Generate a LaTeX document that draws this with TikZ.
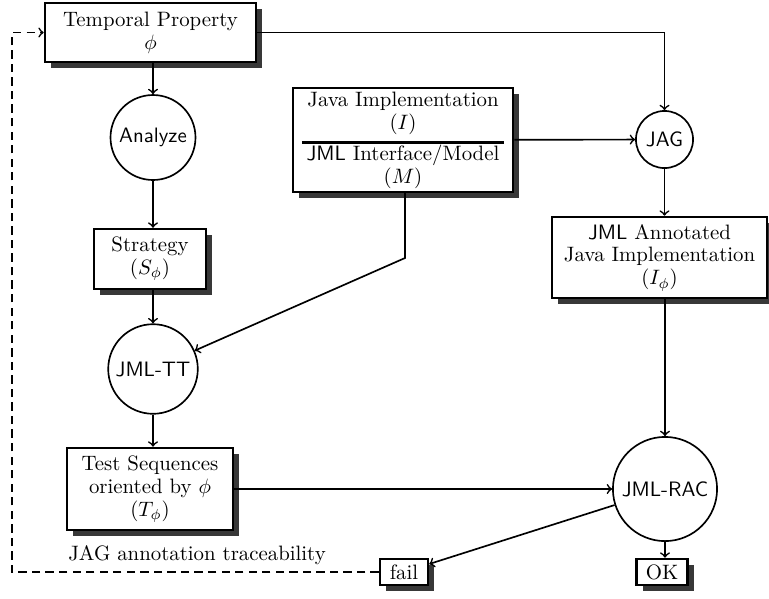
\documentclass[tikz,border=0pt]{standalone}
\usetikzlibrary{shadows}
\begin{document}
\begin{tikzpicture}[x=0.48pt, y=-0.48pt,
    boxStyle/.style={draw, line width=1.2pt, fill=white, align=center, inner sep=1pt,
        font=\fontsize{10}{11}\selectfont,
        drop shadow={shadow xshift=3pt, shadow yshift=-3pt, fill=black!78, opacity=1}},
    circStyle/.style={circle, draw, line width=0.8pt, font=\sffamily, inner sep=0pt},
    edgeStyle/.style={->, line width=0.8pt}]
    \useasboundingbox (0,0) rectangle (769,598);

    % Left column
    \node[boxStyle, minimum width=101.3pt, minimum height=28.3pt] (temporal) at (150.5,32.5) {Temporal Property\\ $\phi$};
    \node[circStyle, minimum size=40.8pt] (analyze) at (153,137.5) {Analyze};
    \node[boxStyle, minimum width=53.8pt, minimum height=28.8pt] (strategy) at (150,259) {Strategy\\ $(S_\phi)$};
    \node[circStyle, minimum size=43pt] (jmltt) at (153,369) {JML-TT};
    \node[boxStyle, minimum width=79.7pt, minimum height=39.4pt] (test) at (150,489) {Test Sequences\\ oriented by $\phi$\\ $(T_\phi)$};

    % Middle
    \node[boxStyle, minimum width=105.6pt, minimum height=49.9pt] (java) at (403,140)
        {Java Implementation\\ $(I)$\\[-4pt] \rule{97pt}{1.2pt}\\[-3pt] \textsf{JML} Interface/Model\\ $(M)$};
    \coordinate (bend) at (405,258);

    % Right column
    \node[circStyle, minimum size=27.4pt] (jag) at (664.5,139.5) {JAG};
    \node[boxStyle, minimum width=103.2pt, minimum height=38.9pt] (annot) at (659.5,257.5)
        {\textsf{JML} Annotated\\ Java Implementation\\ $(I_\phi)$};
    \node[circStyle, minimum size=50pt] (rac) at (665,489) {JML-RAC};

    % Results
    \node[boxStyle, minimum width=23pt, minimum height=12.5pt] (fail) at (404,572) {fail};
    \node[boxStyle, minimum width=24.5pt, minimum height=12.5pt] (ok) at (662,572) {OK};
    \node (trace) at (197,555) {JAG annotation traceability};
    \coordinate (traceLeft) at (12,572);

    % Edges
    \draw[edgeStyle] (temporal.south -| analyze) -- (analyze);
    \draw[edgeStyle] (analyze) -- (analyze |- strategy.north);
    \draw[edgeStyle] (strategy.south -| jmltt) -- (jmltt);
    \draw[edgeStyle] (jmltt) -- (jmltt |- test.north);
    \draw[edgeStyle] (temporal) -| (jag);
    \draw[edgeStyle] (java) -- (jag);
    \draw[edgeStyle] (java.south -| bend) -- (bend) -- (jmltt);
    \draw[edgeStyle] (jag) -- (jag |- annot.north);
    \draw[edgeStyle] (annot.south -| rac) -- (rac);
    \draw[edgeStyle] (test) -- (rac);
    \draw[edgeStyle] (rac) -- (fail);
    \draw[edgeStyle] (rac) -- (rac |- ok.north);
    \draw[edgeStyle, dash pattern=on 4pt off 2.5pt] (fail.west) -- (traceLeft) |- (temporal.west);
\end{tikzpicture}
\end{document}
